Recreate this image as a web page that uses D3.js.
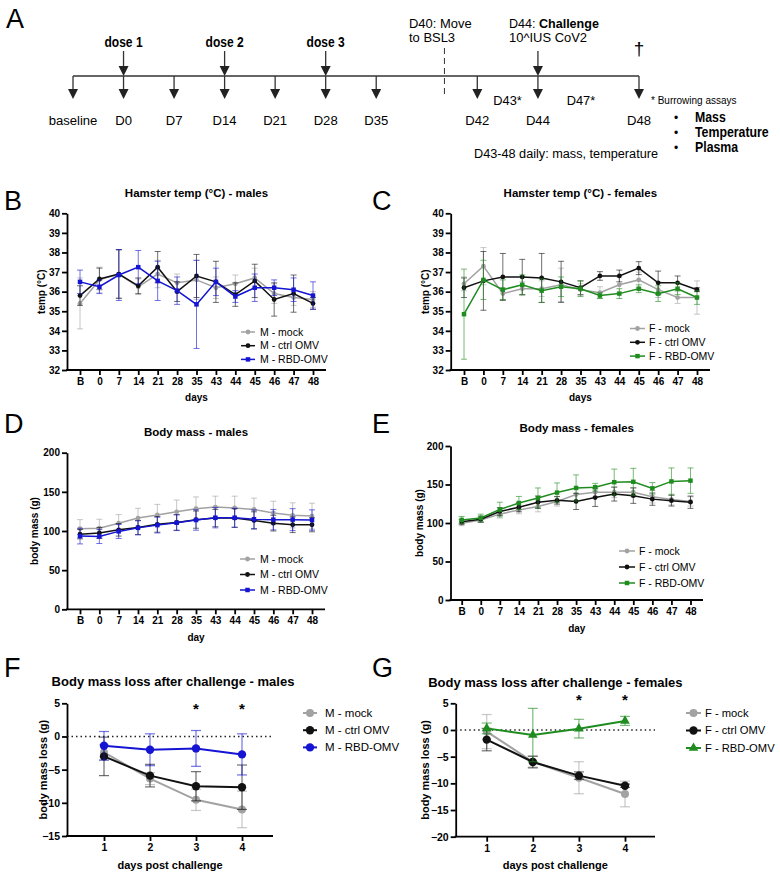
<!DOCTYPE html>
<html>
<head>
<meta charset="utf-8">
<script src="https://cdn.jsdelivr.net/npm/d3@7"></script>
<style>
  body { margin: 0; background: #fff; }
  text { font-family: 'Liberation Sans', Arial, sans-serif; }
</style>
</head>
<body>
<script>
'use strict';

/* ---------- data ---------- */
var days = ['B', '0', '7', '14', '21', '28', '35', '43', '44', '45', '46', '47', '48'];
var groupsM = ['M - mock', 'M - ctrl OMV', 'M - RBD-OMV'];
var groupsF = ['F - mock', 'F - ctrl OMV', 'F - RBD-OMV'];

// B: temperature, males
var tempMMock   = [35.4, 36.6, 36.9, 36.25, 36.9, 36.45, 36.6, 36.2, 36.4, 36.7, 35.9, 35.7, 35.6];
var tempMMockSD = [1.3, 0.65, 1.2, 0.4, 0.7, 0.45, 1.0, 0.55, 0.45, 0.5, 0.5, 0.4, 0.4];
var tempMCtrl   = [35.8, 36.65, 36.9, 36.3, 37.25, 36.0, 36.8, 36.5, 35.85, 36.55, 35.6, 35.9, 35.4];
var tempMCtrlSD = [0.5, 0.55, 1.25, 0.4, 0.8, 0.5, 1.1, 1.05, 0.6, 0.85, 0.85, 0.95, 0.3];
var tempMRbd    = [36.5, 36.25, 36.85, 37.25, 36.55, 36.05, 35.35, 36.5, 35.75, 36.2, 36.2, 36.1, 35.8];
var tempMRbdSD  = [0.6, 0.35, 1.3, 0.85, 1.0, 0.7, 2.25, 0.7, 0.3, 0.7, 0.4, 0.6, 0.7];

// C: temperature, females
var tempFMock   = [36.4, 37.3, 35.9, 36.15, 36.15, 36.35, 36.1, 35.95, 36.35, 36.6, 36.1, 35.7, 35.7];
var tempFMockSD = [0.35, 0.95, 0.3, 0.35, 0.4, 0.85, 0.3, 0.3, 0.4, 0.4, 0.4, 0.3, 0.85];
var tempFCtrl   = [36.2, 36.55, 36.75, 36.75, 36.7, 36.5, 36.2, 36.8, 36.8, 37.2, 36.45, 36.45, 36.1];
var tempFCtrlSD = [0.5, 1.5, 1.2, 0.9, 1.25, 1.05, 0.35, 0.22, 0.3, 0.33, 0.6, 0.35, 0.1];
var tempFRbd    = [34.85, 36.6, 36.1, 36.35, 36.05, 36.25, 36.15, 35.8, 35.9, 36.15, 35.9, 36.15, 35.7];
var tempFRbdSD  = [2.3, 1.0, 0.5, 0.5, 0.6, 0.5, 0.4, 0.15, 0.25, 0.2, 0.4, 0.3, 0.35];

// D: body mass, males
var massMMock   = [103, 103.5, 110, 116.5, 120.5, 124.5, 128.5, 130.5, 129.5, 127.5, 123, 120, 119];
var massMMockSD = [11.5, 11.5, 11, 12.5, 13.5, 15, 15, 14, 15, 14.5, 15, 16, 16.5];
var massMCtrl   = [96, 97.5, 101.5, 104.5, 108.5, 111, 114.5, 116.5, 116.5, 113.5, 110, 108, 108];
var massMCtrlSD = [6, 7, 8, 9, 10, 10, 11, 11, 12, 11, 10, 10, 9];
var massMRbd    = [93.5, 93, 99.5, 104, 107.5, 110.5, 114, 117, 117, 115, 114.5, 114.5, 114];
var massMRbdSD  = [10, 9, 9, 9, 10, 10, 13, 13, 12, 12, 13, 14, 13];

// E: body mass, females
var massFMock   = [99.5, 104, 111.5, 117, 121.5, 128, 137, 140, 140, 140, 134, 130.5, 128];
var massFMockSD = [3, 3, 5, 5, 7, 6, 8, 6, 7, 6, 8, 7, 6];
var massFCtrl   = [101.5, 105, 115, 120.5, 127, 129.5, 128, 133, 137.5, 135.5, 131, 129, 127];
var massFCtrlSD = [3, 4, 5, 6, 8, 5, 10.5, 11.5, 9, 10, 8, 7, 8];
var massFRbd    = [104, 106.5, 117.5, 126, 132.5, 139.5, 145.5, 146.5, 153, 153.5, 145, 154, 155];
var massFRbdSD  = [4.5, 5, 9.5, 8.5, 13, 12.5, 17, 5, 17, 17.5, 7.5, 17.5, 16.5];

// F / G: mass loss after challenge
var dpc = [1, 2, 3, 4];
var lossMMock   = [-2.4, -6.35, -9.55, -11];
var lossMMockSD = [1.2, 0.9, 1.6, 2.75];
var lossMCtrl   = [-3.0, -5.9, -7.5, -7.65];
var lossMCtrlSD = [2.9, 1.7, 2.2, 3.35];
var lossMRbd    = [-1.4, -2.0, -1.8, -2.7];
var lossMRbdSD  = [2.15, 2.4, 2.7, 3.1];
var sigM = [3, 4];

var lossFMock   = [-0.3, -5.95, -8.95, -12];
var lossFMockSD = [3.2, 1.0, 3.0, 2.4];
var lossFCtrl   = [-1.8, -6.0, -8.55, -10.45];
var lossFCtrlSD = [2.1, 1.1, 0.7, 0.3];
var lossFRbd    = [0.3, -0.95, 0.25, 1.7];
var lossFRbdSD  = [1.0, 5.0, 1.75, 0.85];
var sigF = [3, 4];

// A: timeline (schematic slots)
var tlLabels = ['baseline', 'D0', 'D7', 'D14', 'D21', 'D28', 'D35', 'D42', 'D44', 'D48'];
var tlSlots  = [0, 1, 2, 3, 4, 5, 6, 8, 9.2, 11.2];
var doseLabels = ['dose 1', 'dose 2', 'dose 3'];
var doseSlots  = [1, 3, 5];
var burrowLabels = ['D43*', 'D47*'];
var burrowSlots  = [8.6, 10.05];
var readouts = ['Mass', 'Temperature', 'Plasma'];

var cMock = '#a2a2a2', cCtrl = '#111111', cBlue = '#1414d2', cGreen = '#1f8c1f';

/* ---------- svg ---------- */
var svg = d3.select('body').append('svg')
  .attr('width', 780)
  .attr('height', 875);

// sx < 1 squeezes the text horizontally (narrow face look)
function label(x, y, s, size, weight, anchor, sx) {
  return svg.append('text')
    .attr('transform', 'translate(' + x + ',' + y + ')' + (sx ? ' scale(' + sx + ',1)' : ''))
    .style('font-size', size + 'px')
    .style('font-weight', weight || 'normal')
    .attr('text-anchor', anchor || 'start')
    .text(s);
}

/* ---------- panel A ---------- */
var tx = d3.scaleLinear().domain([0, 11.2]).range([73, 639]);
var tlY = 76;
var tl = svg.append('g').attr('stroke', '#333').attr('stroke-width', 1.3).attr('fill', '#222');

tl.append('line').attr('x1', tx(0)).attr('x2', tx(11.2)).attr('y1', tlY).attr('y2', tlY);

function arrow(x, y0, y1) {
  tl.append('line').attr('x1', x).attr('x2', x).attr('y1', y0).attr('y2', y1 - 9);
  tl.append('path').attr('stroke', 'none')
    .attr('d', 'M' + (x - 5) + ',' + (y1 - 10) + 'L' + (x + 5) + ',' + (y1 - 10) + 'L' + x + ',' + y1 + 'Z');
}
tlSlots.forEach(function(s) { arrow(tx(s), tlY, 99); });
doseSlots.forEach(function(s) { arrow(tx(s), 51, tlY); });
arrow(tx(9.2), 51, tlY);
tl.append('line').attr('x1', tx(7.35)).attr('x2', tx(7.35)).attr('y1', 48).attr('y2', 98)
  .attr('stroke-dasharray', '6,4').attr('stroke-width', 1);

tlLabels.forEach(function(l, i) { label(tx(tlSlots[i]), 125, l, 13.5, 'normal', 'middle', 0.97); });
doseLabels.forEach(function(l, i) { label(tx(doseSlots[i]), 47, l, 14, 'bold', 'middle', 0.86); });
burrowLabels.forEach(function(l, i) { label(tx(burrowSlots[i]), 105, l, 13.5, 'normal', 'middle', 0.95); });
label(409, 28, 'D40: Move', 13.5, 'normal', 'start', 0.96);
label(409, 42, 'to BSL3', 13.5, 'normal', 'start', 0.96);
var ch = label(509, 28, 'D44: ', 13.5, 'normal', 'start', 0.93);
ch.append('tspan').style('font-weight', 'bold').text('Challenge');
label(509, 42, '10^IUS CoV2', 13.5, 'normal', 'start', 0.96);
label(tx(11.2), 55, '\u2020', 19, 'normal', 'middle');
label(651, 104, '* Burrowing assays', 11.5, 'normal', 'start', 0.87);
readouts.forEach(function(r, i) {
  label(676, 122 + i * 15, '\u2022', 12, 'normal', 'middle');
  label(695, 122 + i * 15, r, 14.5, 'bold', 'start', 0.85);
});
label(474, 158, 'D43-48 daily: mass, temperature', 13.5, 'normal', 'start', 0.94);
label(6, 28, 'A', 27);

/* ---------- line panels ---------- */
function panel(p) {
  var g = svg.append('g');
  var x = p.x, y = p.y;
  var y0 = y.range()[0];

  // axes
  var ya = g.append('g').attr('transform', 'translate(' + p.ax0 + ',0)')
    .call(d3.axisLeft(y).tickValues(p.yTicks).tickSize(5).tickSizeOuter(0).tickPadding(2));
  var xa = g.append('g').attr('transform', 'translate(0,' + y0 + ')')
    .call(d3.axisBottom(x).tickValues(p.xTicks).tickSize(5).tickPadding(3).tickFormat(p.xFormat || null));
  xa.select('.domain').remove();
  g.append('line').attr('x1', p.ax0 - 1).attr('x2', p.ax1).attr('y1', y0).attr('y2', y0)
    .attr('stroke', '#000').attr('stroke-width', 1.8);
  [ya, xa].forEach(function(a) {
    a.selectAll('path,line').attr('stroke', '#000').attr('stroke-width', 1.8);
    a.selectAll('text').attr('fill', '#000').style('font-size', p.tickSize + 'px').style('font-weight', 'bold')
      .style('font-family', "'Liberation Sans', Arial, sans-serif");
  });

  if (p.zero) {
    g.append('line').attr('x1', p.ax0).attr('x2', p.ax1).attr('y1', y(0)).attr('y2', y(0))
      .attr('stroke', '#222').attr('stroke-width', 1.3).attr('stroke-dasharray', '1.5,3');
  }

  p.series.forEach(function(s) {
    var pts = p.xs.map(function(c, i) { return { c: c, v: s.vals[i], e: s.sd[i] }; });
    var eb = g.append('g').attr('stroke', s.color).attr('stroke-opacity', p.ebOpacity)
      .attr('stroke-width', p.ebWidth);
    eb.selectAll('.v').data(pts).enter().append('line')
      .attr('x1', function(d) { return x(d.c); }).attr('x2', function(d) { return x(d.c); })
      .attr('y1', function(d) { return y(d.v - d.e); }).attr('y2', function(d) { return y(d.v + d.e); });
    [1, -1].forEach(function(sg) {
      eb.selectAll('.cap' + sg).data(pts).enter().append('line')
        .attr('x1', function(d) { return x(d.c) - p.cap; }).attr('x2', function(d) { return x(d.c) + p.cap; })
        .attr('y1', function(d) { return y(d.v + sg * d.e); }).attr('y2', function(d) { return y(d.v + sg * d.e); });
    });
    g.append('path').datum(pts)
      .attr('fill', 'none').attr('stroke', s.color).attr('stroke-width', p.lineWidth)
      .attr('d', d3.line().x(function(d) { return x(d.c); }).y(function(d) { return y(d.v); }));
    g.selectAll(null).data(pts).enter().append('path')
      .attr('fill', s.color)
      .attr('transform', function(d) { return 'translate(' + x(d.c) + ',' + y(d.v) + ')'; })
      .attr('d', d3.symbol().type(s.shape).size(s.size));
  });

  // legend
  p.series.forEach(function(s, i) {
    var ly = p.leg.y + i * p.leg.dy;
    g.append('line').attr('x1', p.leg.x).attr('x2', p.leg.x + p.leg.len).attr('y1', ly).attr('y2', ly)
      .attr('stroke', s.color).attr('stroke-width', p.lineWidth);
    g.append('path').attr('fill', s.color)
      .attr('transform', 'translate(' + (p.leg.x + p.leg.len / 2) + ',' + ly + ')')
      .attr('d', d3.symbol().type(s.shape).size(s.size));
    g.append('text').attr('x', p.leg.tx).attr('y', ly).attr('dy', '0.35em')
      .style('font-size', p.leg.size + 'px').text(s.name);
  });

  // titles
  label((p.ax0 + p.ax1) / 2 + p.titleDx, p.titleY, p.title, p.titleSize, 'bold', 'middle');
  label((p.ax0 + p.ax1) / 2, p.xLabY, p.xLab, p.labSize, 'bold', 'middle');
  svg.append('text')
    .attr('transform', 'translate(' + p.yLabX + ',' + (y.range()[0] + y.range()[1]) / 2 + ') rotate(-90)')
    .attr('text-anchor', 'middle')
    .style('font-size', p.labSize + 'px').style('font-weight', 'bold')
    .text(p.yLab);
  label(p.letterX, p.letterY, p.letter, 27);
}

function mk(names, cols, shapes, sizes, vals, sds) {
  return names.map(function(n, i) {
    return { name: n, color: cols[i], shape: shapes[i], size: sizes[i], vals: vals[i], sd: sds[i] };
  });
}

var smallShapes = [d3.symbolCircle, d3.symbolCircle, d3.symbolSquare];
var smallSizes = [18, 18, 20];

// B
panel({
  x: d3.scalePoint().domain(days).range([80, 313]), xs: days, xTicks: days,
  y: d3.scaleLinear().domain([32, 40]).range([370, 213.3]), yTicks: d3.range(32, 41),
  ax0: 67, ax1: 326, tickSize: 10, ebOpacity: 0.6, ebWidth: 1, cap: 3, lineWidth: 1.5,
  series: mk(groupsM, [cMock, cCtrl, cBlue], smallShapes, smallSizes,
    [tempMMock, tempMCtrl, tempMRbd], [tempMMockSD, tempMCtrlSD, tempMRbdSD]),
  leg: { x: 241, len: 14, tx: 260, y: 332, dy: 13.7, size: 10.5 },
  title: 'Hamster temp (\u00B0C) - males', titleY: 197, titleDx: 0, titleSize: 11.5,
  xLab: 'days', xLabY: 401, yLab: 'temp (\u00B0C)', yLabX: 45, labSize: 10,
  letter: 'B', letterX: 4, letterY: 210
});

// C
panel({
  x: d3.scalePoint().domain(days).range([464, 697]), xs: days, xTicks: days,
  y: d3.scaleLinear().domain([32, 40]).range([370, 213.3]), yTicks: d3.range(32, 41),
  ax0: 450.7, ax1: 710, tickSize: 10, ebOpacity: 0.6, ebWidth: 1, cap: 3, lineWidth: 1.5,
  series: mk(groupsF, [cMock, cCtrl, cGreen], smallShapes, smallSizes,
    [tempFMock, tempFCtrl, tempFRbd], [tempFMockSD, tempFCtrlSD, tempFRbdSD]),
  leg: { x: 630, len: 15, tx: 649, y: 328.5, dy: 13.8, size: 10.5 },
  title: 'Hamster temp (\u00B0C) - females', titleY: 197, titleDx: 0, titleSize: 11.5,
  xLab: 'days', xLabY: 401, yLab: 'temp (\u00B0C)', yLabX: 429, labSize: 10,
  letter: 'C', letterX: 372, letterY: 210
});

// D
panel({
  x: d3.scalePoint().domain(days).range([80, 312]), xs: days, xTicks: days,
  y: d3.scaleLinear().domain([0, 200]).range([609.3, 452.7]), yTicks: [0, 50, 100, 150, 200],
  ax0: 67, ax1: 325, tickSize: 10, ebOpacity: 0.6, ebWidth: 1, cap: 3, lineWidth: 1.5,
  series: mk(groupsM, [cMock, cCtrl, cBlue], smallShapes, smallSizes,
    [massMMock, massMCtrl, massMRbd], [massMMockSD, massMCtrlSD, massMRbdSD]),
  leg: { x: 240, len: 15, tx: 260, y: 559, dy: 15.5, size: 10.5 },
  title: 'Body mass - males', titleY: 436, titleDx: 0, titleSize: 11.5,
  xLab: 'day', xLabY: 641, yLab: 'body mass (g)', yLabX: 38, labSize: 10,
  letter: 'D', letterX: 4, letterY: 433
});

// E
panel({
  x: d3.scalePoint().domain(days).range([461.7, 690.5]), xs: days, xTicks: days,
  y: d3.scaleLinear().domain([0, 200]).range([600, 446]), yTicks: [0, 50, 100, 150, 200],
  ax0: 450.5, ax1: 703, tickSize: 10, ebOpacity: 0.6, ebWidth: 1, cap: 3, lineWidth: 1.5,
  series: mk(groupsF, [cMock, cCtrl, cGreen], smallShapes, smallSizes,
    [massFMock, massFCtrl, massFRbd], [massFMockSD, massFCtrlSD, massFRbdSD]),
  leg: { x: 619, len: 16, tx: 639, y: 551, dy: 16, size: 10.5 },
  title: 'Body mass - females', titleY: 432, titleDx: 0, titleSize: 11.5,
  xLab: 'day', xLabY: 632, yLab: 'body mass (g)', yLabX: 423, labSize: 10,
  letter: 'E', letterX: 372, letterY: 433
});

// F
var bigShapes = [d3.symbolCircle, d3.symbolCircle, d3.symbolCircle];
panel({
  x: d3.scaleLinear().domain([1, 4]).range([104, 242]), xs: dpc, xTicks: dpc, xFormat: d3.format('d'),
  y: d3.scaleLinear().domain([-15, 5]).range([836, 703.3]), yTicks: [-15, -10, -5, 0, 5],
  ax0: 67, ax1: 273, tickSize: 10.5, ebOpacity: 0.6, ebWidth: 1.2, cap: 5, lineWidth: 2, zero: true,
  series: mk(groupsM, [cMock, cCtrl, cBlue], bigShapes, [50, 55, 55],
    [lossMMock, lossMCtrl, lossMRbd], [lossMMockSD, lossMCtrlSD, lossMRbdSD]),
  leg: { x: 303, len: 14, tx: 325, y: 713, dy: 17.2, size: 11.5 },
  title: 'Body mass loss after challenge - males', titleY: 686, titleDx: 3, titleSize: 13,
  xLab: 'days post challenge', xLabY: 869, yLab: 'body mass loss (g)', yLabX: 47, labSize: 11,
  letter: 'F', letterX: 4, letterY: 677
});

// G
panel({
  x: d3.scaleLinear().domain([1, 4]).range([486.7, 625]), xs: dpc, xTicks: dpc, xFormat: d3.format('d'),
  y: d3.scaleLinear().domain([-20, 5]).range([836.7, 703.3]), yTicks: [-20, -15, -10, -5, 0, 5],
  ax0: 455.7, ax1: 655, tickSize: 10.5, ebOpacity: 0.6, ebWidth: 1.2, cap: 5, lineWidth: 2, zero: true,
  series: mk(groupsF, [cMock, cCtrl, cGreen], [d3.symbolCircle, d3.symbolCircle, d3.symbolTriangle], [50, 55, 40],
    [lossFMock, lossFCtrl, lossFRbd], [lossFMockSD, lossFCtrlSD, lossFRbdSD]),
  leg: { x: 686, len: 15, tx: 705, y: 713, dy: 17.5, size: 11.2 },
  title: 'Body mass loss after challenge - females', titleY: 687, titleDx: 0, titleSize: 13,
  xLab: 'days post challenge', xLabY: 869, yLab: 'body mass loss (g)', yLabX: 429, labSize: 11,
  letter: 'G', letterX: 372, letterY: 677
});

// significance stars
var fx = d3.scaleLinear().domain([1, 4]).range([104, 242]);
var gx = d3.scaleLinear().domain([1, 4]).range([486.7, 625]);
sigM.forEach(function(d) { label(fx(d), 714, '*', 15, 'bold', 'middle'); });
sigF.forEach(function(d) { label(gx(d), 705, '*', 15, 'bold', 'middle'); });
</script>
</body>
</html>
